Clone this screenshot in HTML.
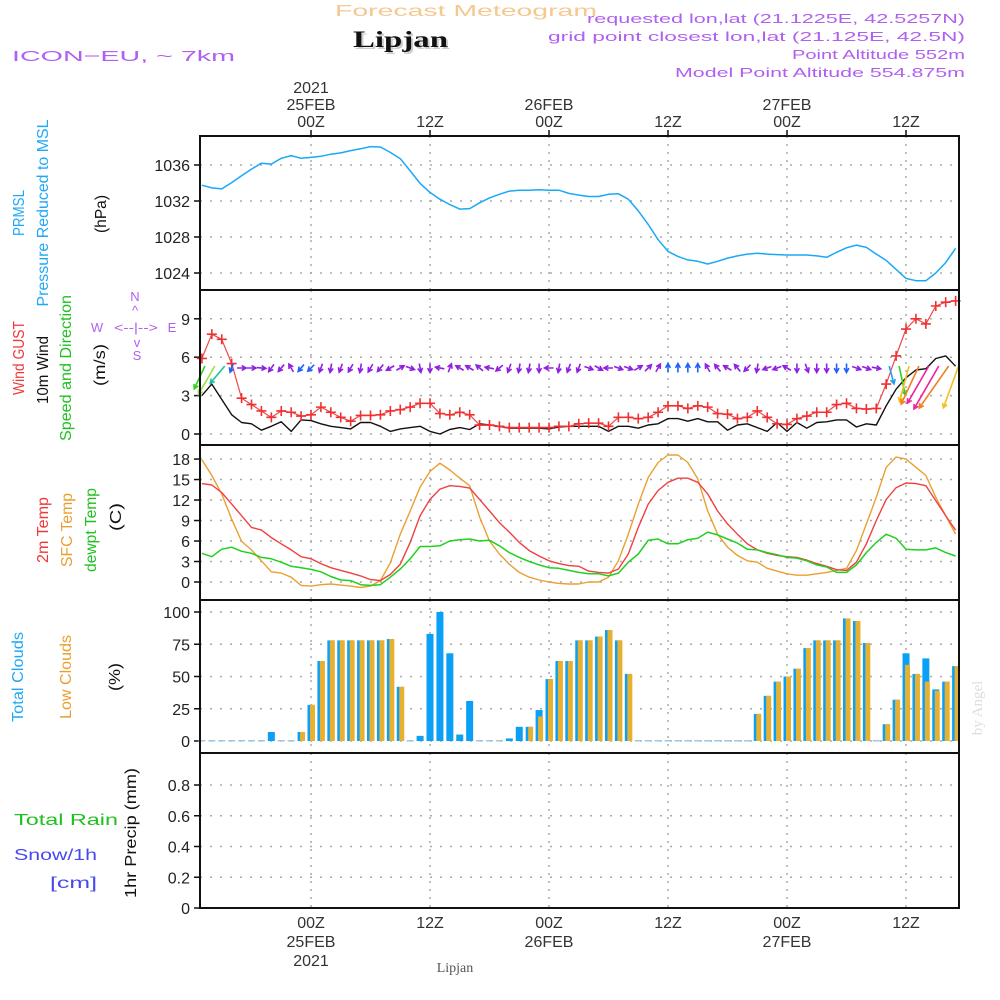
<!DOCTYPE html>
<html><head><meta charset="utf-8"><style>
html,body{margin:0;padding:0;background:#fff;}
svg{display:block;font-family:"Liberation Sans",sans-serif;}
</style></head><body>
<svg id="chart" width="1000" height="1000" viewBox="0 0 1000 1000" xmlns="http://www.w3.org/2000/svg">
<rect x="0" y="0" width="1000" height="1000" fill="#fff"/>
<text x="335" y="16" font-size="16" fill="#f5c890" textLength="262" lengthAdjust="spacingAndGlyphs">Forecast Meteogram</text>
<text x="355" y="49" font-size="23" font-weight="bold" font-family="Liberation Serif,serif" fill="#ccc" textLength="95" lengthAdjust="spacingAndGlyphs">Lipjan</text>
<text x="353" y="47" font-size="23" font-weight="bold" font-family="Liberation Serif,serif" fill="#111" textLength="95" lengthAdjust="spacingAndGlyphs">Lipjan</text>
<text x="12" y="61" font-size="15" fill="#b060f0" textLength="223" lengthAdjust="spacingAndGlyphs">ICON−EU, ~ 7km</text>
<text x="965" y="23" font-size="13" fill="#b060f0" text-anchor="end" textLength="378" lengthAdjust="spacingAndGlyphs">requested lon,lat (21.1225E, 42.5257N)</text>
<text x="965" y="41" font-size="13" fill="#b060f0" text-anchor="end" textLength="417" lengthAdjust="spacingAndGlyphs">grid point closest lon,lat (21.125E, 42.5N)</text>
<text x="965" y="59" font-size="13" fill="#b060f0" text-anchor="end" textLength="173" lengthAdjust="spacingAndGlyphs">Point Altitude 552m</text>
<text x="965" y="77" font-size="13" fill="#b060f0" text-anchor="end" textLength="290" lengthAdjust="spacingAndGlyphs">Model Point Altitude 554.875m</text>

<g font-size="16">
<text transform="translate(24,213) rotate(-90)" text-anchor="middle" fill="#20a8f8" textLength="46" lengthAdjust="spacingAndGlyphs">PRMSL</text>
<text transform="translate(48,213) rotate(-90)" text-anchor="middle" fill="#20a8f8" textLength="187" lengthAdjust="spacingAndGlyphs">Pressure Reduced to MSL</text>
<text transform="translate(106,214) rotate(-90)" text-anchor="middle" fill="#111" textLength="38" lengthAdjust="spacingAndGlyphs">(hPa)</text>
<text transform="translate(24,358) rotate(-90)" text-anchor="middle" fill="#f03838" textLength="74" lengthAdjust="spacingAndGlyphs">Wind GUST</text>
<text transform="translate(48,370) rotate(-90)" text-anchor="middle" fill="#111" textLength="68" lengthAdjust="spacingAndGlyphs">10m Wind</text>
<text transform="translate(71,368) rotate(-90)" text-anchor="middle" fill="#20c020" textLength="146" lengthAdjust="spacingAndGlyphs">Speed and Direction</text>
<text transform="translate(105,365) rotate(-90)" text-anchor="middle" fill="#111" textLength="42" lengthAdjust="spacingAndGlyphs">(m/s)</text>
<text transform="translate(48,530) rotate(-90)" text-anchor="middle" fill="#f03838" textLength="66" lengthAdjust="spacingAndGlyphs">2m Temp</text>
<text transform="translate(72,530) rotate(-90)" text-anchor="middle" fill="#e8a030" textLength="74" lengthAdjust="spacingAndGlyphs">SFC Temp</text>
<text transform="translate(96,530) rotate(-90)" text-anchor="middle" fill="#20c020" textLength="84" lengthAdjust="spacingAndGlyphs">dewpt Temp</text>
<text transform="translate(121,517) rotate(-90)" text-anchor="middle" fill="#111" textLength="28" lengthAdjust="spacingAndGlyphs">(C)</text>
<text transform="translate(23,677) rotate(-90)" text-anchor="middle" fill="#20a8f8" textLength="90" lengthAdjust="spacingAndGlyphs">Total Clouds</text>
<text transform="translate(71,677) rotate(-90)" text-anchor="middle" fill="#e8a030" textLength="84" lengthAdjust="spacingAndGlyphs">Low Clouds</text>
<text transform="translate(120,677) rotate(-90)" text-anchor="middle" fill="#111" textLength="28" lengthAdjust="spacingAndGlyphs">(%)</text>
<text x="14" y="825" fill="#20c020" textLength="104" lengthAdjust="spacingAndGlyphs">Total  Rain</text>
<text x="14" y="860" fill="#4848f0" textLength="83" lengthAdjust="spacingAndGlyphs">Snow/1h</text>
<text x="50" y="888" fill="#4848f0" textLength="47" lengthAdjust="spacingAndGlyphs">[cm]</text>
<text transform="translate(136,833) rotate(-90)" text-anchor="middle" fill="#111" textLength="130" lengthAdjust="spacingAndGlyphs">1hr Precip (mm)</text>
</g>
<g fill="#b060f0" font-size="13">
<text x="135" y="301" text-anchor="middle">N</text>
<text x="135" y="315" text-anchor="middle">^</text>
<text x="97" y="332" text-anchor="middle">W</text>
<text x="136" y="332" text-anchor="middle" textLength="44" lengthAdjust="spacingAndGlyphs">&lt;--|--&gt;</text>
<text x="172" y="332" text-anchor="middle">E</text>
<text x="137" y="347" text-anchor="middle">v</text>
<text x="137" y="360" text-anchor="middle">S</text>
</g>
<text transform="translate(982,708) rotate(-90)" text-anchor="middle" font-size="15" font-family="Liberation Serif,serif" fill="#ddd">by Angel</text>
<text x="455" y="972" text-anchor="middle" font-size="14" font-family="Liberation Serif,serif" fill="#555">Lipjan</text>
<g id="dyn"></g>
</svg>
<script>
const hours = [];
for (let h = -11; h <= 65; h++) hours.push(h);
const pressure = [1033.76,1033.46,1033.35,1034.05,1034.8,1035.55,1036.2,1036.1,1036.75,1037.05,1036.75,1036.85,1036.97,1037.2,1037.35,1037.6,1037.8,1038.05,1038.0,1037.4,1036.7,1035.35,1033.95,1032.95,1032.2,1031.6,1031.1,1031.15,1031.8,1032.35,1032.75,1033.1,1033.2,1033.2,1033.25,1033.2,1033.2,1032.85,1032.65,1032.5,1032.5,1032.75,1032.8,1032.2,1030.9,1029.4,1027.7,1026.4,1025.85,1025.45,1025.3,1025.0,1025.3,1025.65,1025.9,1026.1,1026.2,1026.1,1026.05,1026.0,1026.0,1026.0,1025.9,1025.75,1026.3,1026.8,1027.1,1026.85,1026.1,1025.4,1024.4,1023.4,1023.15,1023.15,1024.0,1025.15,1026.75];
const gust = [5.9,7.8,7.4,5.5,2.8,2.3,1.8,1.3,1.8,1.7,1.4,1.5,2.1,1.7,1.3,1.0,1.45,1.45,1.5,1.8,1.9,2.1,2.4,2.4,1.6,1.5,1.7,1.5,0.7,0.7,0.6,0.5,0.5,0.5,0.5,0.5,0.6,0.6,0.8,0.85,0.85,0.6,1.3,1.3,1.2,1.3,1.7,2.2,2.2,2.0,2.2,2.1,1.6,1.55,1.2,1.3,1.8,1.3,0.8,0.75,1.2,1.4,1.7,1.7,2.3,2.4,2.0,1.95,2.0,3.9,6.1,8.2,9.0,8.6,10.0,10.3,10.4];
const wind = [3.0,3.9,2.7,1.5,0.9,0.8,0.3,0.6,0.95,0.2,1.1,1.05,0.8,0.6,0.5,0.4,0.9,0.9,0.6,0.2,0.4,0.5,0.6,0.2,0.0,0.35,0.5,0.35,0.8,0.7,0.6,0.45,0.45,0.45,0.45,0.4,0.55,0.6,0.6,0.6,0.6,0.2,0.6,0.6,0.45,0.7,0.8,1.2,1.2,1.0,1.2,0.95,0.95,0.3,0.7,0.8,0.5,0.2,0.9,0.2,0.9,0.45,0.9,0.95,1.1,1.1,0.55,0.8,0.7,2.2,3.5,4.4,5.0,5.1,5.9,6.1,5.3];
const windDir = [205,210,220,200,90,90,95,215,220,330,220,225,200,190,200,210,190,210,220,240,60,110,170,180,280,20,300,300,310,280,230,200,190,190,180,270,190,200,200,110,120,270,110,110,60,45,30,0,0,0,0,330,320,300,320,225,190,250,250,300,180,160,180,180,180,180,110,110,100,165,168,195,205,210,210,215,200];
const t2m = [14.4,14.2,13.1,11.4,9.7,8.0,7.6,6.5,5.6,4.7,3.7,3.4,2.7,2.1,1.7,1.3,0.9,0.35,0.2,1.1,2.6,5.8,9.7,12.1,13.6,14.1,14.0,13.75,12.1,10.4,8.7,7.3,5.8,4.6,3.8,3.1,2.7,2.4,2.3,1.6,1.4,1.3,1.9,4.1,8.0,11.4,13.4,14.6,15.2,15.2,14.6,12.9,10.4,8.5,7.0,5.6,4.7,4.2,3.9,3.7,3.6,3.2,2.7,2.3,1.8,1.7,2.9,5.6,9.0,12.1,13.8,14.5,14.4,14.1,11.9,9.7,7.6];
const tsfc = [17.9,15.6,12.9,9.2,5.95,4.7,3.1,1.5,1.3,0.7,-0.5,-0.6,-0.4,-0.3,-0.45,-0.6,-0.8,-0.6,0.2,2.8,7.0,10.4,13.9,16.2,17.4,16.4,15.2,14.1,9.5,6.0,4.1,2.6,1.4,0.7,0.3,0.0,-0.2,-0.3,-0.3,0.0,0.0,0.7,3.1,7.0,11.4,15.3,17.5,18.6,18.6,17.5,15.1,10.4,7.0,5.1,3.9,3.1,2.9,2.0,1.6,1.2,1.0,1.0,1.2,1.4,1.7,2.0,4.6,8.5,12.4,16.8,18.3,18.0,16.8,15.6,12.4,9.7,7.0];
const tdew = [4.2,3.7,4.8,5.1,4.5,4.2,3.6,3.4,2.9,2.3,2.1,1.85,1.5,0.8,0.3,0.2,-0.4,-0.5,-0.4,0.7,1.9,3.4,5.2,5.2,5.3,6.0,6.2,6.3,6.0,6.1,5.3,4.3,3.6,3.0,2.5,2.1,2.0,1.7,1.4,1.2,1.2,0.9,1.3,2.9,4.1,6.1,6.3,5.6,5.6,6.2,6.4,7.3,6.9,6.3,5.7,4.8,4.7,4.3,4.0,3.6,3.5,3.1,2.5,2.2,1.4,1.4,2.5,4.3,5.8,7.0,6.4,4.8,4.7,4.7,5.0,4.3,3.8];
const cloudTotal = [0,0,0,0,0,0,0,7,0,0,7,28,62,78,78,78,78,78,78,79,42,0,4,83,100,68,5,31,0,0,0,2,11,11,24,48,62,62,78,78,81,86,78,52,0,0,0,0,0,0,0,0,0,0,0,0,21,35,46,50,56,72,78,78,78,95,93,76,0,13,32,68,52,64,40,46,58];
const cloudLow = [0,0,0,0,0,0,0,0,0,0,7,28,62,78,78,78,78,78,78,79,42,0,0,0,0,0,0,0,0,0,0,0,0,11,19,48,62,62,78,78,81,86,78,52,0,0,0,0,0,0,0,0,0,0,0,0,21,35,46,50,56,72,78,78,78,95,93,76,0,13,32,59,52,46,39,46,58];
const precip = hours.map(() => 0);
const pTicks = [1024,1028,1032,1036];
const wTicks = [0,3,6,9];
const tTicks = [0,3,6,9,12,15,18];
const cTicks = [0,25,50,75,100];
const rTicks = [0,0.2,0.4,0.6,0.8];
const timeTicks = [0,12,24,36,48,60];
const timeLabels = ["00Z","12Z","00Z","12Z","00Z","12Z"];
const dateLabels = ["25FEB","","26FEB","","27FEB",""];
const bigArrowColors = {"-11":"#30d020","-10":"#a0e040","-9":"#20c0a0","58":"#20a0f0","59":"#30d020","60":"#f0c020","61":"#f08020","62":"#f020a0","63":"#f020a0","64":"#f08020","65":"#f0c020"};

const NS = "http://www.w3.org/2000/svg";
const dyn = document.getElementById("dyn");
const X = h => 311 + h * 9.917;
const yP = v => 273 - (v - 1024) * 9;
const yW = v => 434 - v * 12.8;
const yT = v => 582 - v * 6.83;
const yC = v => 741 - v * 1.29;
const yR = v => 908 - v * 153.75;
const panels = [[136,290,yP,pTicks,"pressure"],[290,445,yW,wTicks,"wind"],[445,600,yT,tTicks,"temperature"],[600,753,yC,cTicks,"clouds"],[753,908,yR,rTicks,"precip"]];
function el(tag, attrs, parent) {
  const e = document.createElementNS(NS, tag);
  for (const k in attrs) e.setAttribute(k, attrs[k]);
  (parent || dyn).appendChild(e);
  return e;
}
panels.forEach(p => {
  const g = el("g", {});
  
  
  timeTicks.forEach(t => {
    const l = el("line", {x1: X(t), x2: X(t), y1: p[0], y2: p[1], stroke: "#aaa", "stroke-width": 1.5, "stroke-dasharray": "2,6"}, g);
    
    
  });
  p[3].forEach(v => {
    const y = p[2](v);
    const l = el("line", {x1: 200, x2: 959, y1: y, y2: y, stroke: "#aaa", "stroke-width": 1.5, "stroke-dasharray": "2,8"}, g);
    
    
    const tk = el("line", {x1: 194, x2: 200, y1: y, y2: y, stroke: "#111", "stroke-width": 1.5}, g);
    
    
    const tx = el("text", {x: 190, y: y + 6, "text-anchor": "end", "font-size": 16, fill: "#222"}, g);
    
    
    tx.textContent = String(v);
  });
});
timeTicks.forEach((t, i) => {
  const a = el("text", {x: X(t), y: 127, "text-anchor": "middle", "font-size": 16, fill: "#333"});
  
  
  a.textContent = timeLabels[i];
  const b = el("text", {x: X(t), y: 928, "text-anchor": "middle", "font-size": 16, fill: "#333"});
  
  
  b.textContent = timeLabels[i];
  if (dateLabels[i]) {
    const c = el("text", {x: X(t), y: 110, "text-anchor": "middle", "font-size": 16, fill: "#333"});
    
    
    c.textContent = dateLabels[i];
    const d = el("text", {x: X(t), y: 947, "text-anchor": "middle", "font-size": 16, fill: "#333"});
    
    
    d.textContent = dateLabels[i];
  }
  const tk = el("line", {x1: X(t), x2: X(t), y1: 130, y2: 136, stroke: "#111", "stroke-width": 1.5});
  
  
});
const yr1 = el("text", {x: X(0), y: 93, "text-anchor": "middle", "font-size": 16, fill: "#333"});


yr1.textContent = "2021";
const yr2 = el("text", {x: X(0), y: 966, "text-anchor": "middle", "font-size": 16, fill: "#333"});


yr2.textContent = "2021";

function poly(vals, yf, color, w, name) {
  const pts = vals.map((v, i) => X(hours[i]).toFixed(1) + "," + yf(v).toFixed(1)).join(" ");
  const p = el("polyline", {points: pts, fill: "none", stroke: color, "stroke-width": w, "stroke-linejoin": "round"});
  
  
}
hours.forEach((h, i) => {
  if (cloudTotal[i] > 0) {
    const b = el("rect", {x: X(h) - 3.5, y: yC(cloudTotal[i]), width: 7, height: yC(0) - yC(cloudTotal[i]), fill: "#0aa0f5"});
    
    
  } else {
    const b = el("rect", {x: X(h) - 3.5, y: yC(0) - 1, width: 7, height: 1.5, fill: "#9cc8e0"});
    
    
  }
  if (cloudLow[i] > 0) {
    const b = el("rect", {x: X(h) - 1, y: yC(cloudLow[i]), width: 5, height: yC(0) - yC(cloudLow[i]), fill: "#e8b030"});
    
    
  }
});
poly(pressure, yP, "#1aa8f8", 1.5, "pressure-line");
poly(tsfc, yT, "#eaa030", 1.4, "sfc-temp-line");
poly(t2m, yT, "#f04040", 1.4, "temp-2m-line");
poly(tdew, yT, "#20d020", 1.5, "dewpt-line");
poly(wind, yW, "#111", 1.4, "wind-speed-line");
poly(gust, yW, "#f04848", 1.2, "wind-gust-line");
poly(precip, yR, "#444", 1.5, "precip-line");
hours.forEach((h, i) => {
  const x = X(h), y = yW(gust[i]);
  const m = el("path", {d: `M${x-5},${y}h10M${x},${y-5}v10`, stroke: "#f03030", "stroke-width": 1.6});
  
  
});
const arrowRow = 368;
hours.forEach((h, i) => {
  const s = wind[i];
  const big = s >= 2.0;
  const L = big ? s * 8.4 : 9;
  const a = windDir[i] * Math.PI / 180;
  const dx = Math.sin(a) * L, dy = -Math.cos(a) * L;
  let x0, y0;
  if (big) { x0 = X(h) + 3; y0 = arrowRow - 2; } else { x0 = X(h) - dx / 2; y0 = arrowRow - dy / 2; }
  const x1 = x0 + dx, y1 = y0 + dy;
  let col = "#9020e0";
  if (big) col = bigArrowColors[String(h)] || "#f08020";
  else if (s >= 1.0) col = "#2060ff";
  const hl = 5, ang = Math.atan2(dy, dx);
  const hx1 = x1 - hl * Math.cos(ang - 0.5), hy1 = y1 - hl * Math.sin(ang - 0.5);
  const hx2 = x1 - hl * Math.cos(ang + 0.5), hy2 = y1 - hl * Math.sin(ang + 0.5);
  const p = el("path", {d: `M${x0},${y0}L${x1},${y1}M${hx1},${hy1}L${x1},${y1}L${hx2},${hy2}`, stroke: col, "stroke-width": 1.6, fill: "none"});
  
  
});
panels.forEach(p => {
  const r = el("rect", {x: 200, y: p[0], width: 759, height: p[1] - p[0], fill: "none", stroke: "#111", "stroke-width": 2});
  
  
});
</script>
</body></html>
